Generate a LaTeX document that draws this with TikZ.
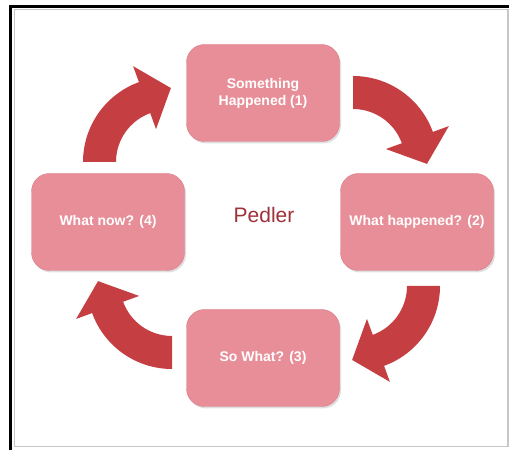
\documentclass[tikz,border=0pt]{standalone}
\usepackage{fontspec}
\setmainfont{Liberation Sans}
\usetikzlibrary{calc,shadows}

\definecolor{boxpink}{RGB}{231,142,152}
\definecolor{boxedge}{RGB}{219,122,134}
\definecolor{arrowred}{RGB}{196,62,66}
\definecolor{pedlerred}{RGB}{158,48,58}

% curved block arrow: centre, start angle, end angle
\newcommand{\bendarrow}[3]{%
	\fill[arrowred] ($(#1)+(#2:85)$) arc[start angle=#2, end angle=#3, radius=85]
		-- ($(#1)+(#3:102)$) -- ($(#1)+(#3:68.5)+(#3-90:28)$) -- ($(#1)+(#3:35)$)
		-- ($(#1)+(#3:52)$) arc[start angle=#3, end angle=#2, radius=52] -- cycle;}

\begin{document}
\begin{tikzpicture}[x=1pt, y=1pt,
	every node/.style = {font=\fontsize{14}{17}\selectfont\bfseries},
	stage/.style = {shape=rectangle, rounded corners=18pt,
		draw=boxedge, fill=boxpink, text=white, align=center,
		minimum width=153pt, minimum height=97pt,
		drop shadow={opacity=0.25, shadow xshift=1.5pt, shadow yshift=-2pt}}]
	\useasboundingbox (0,0) rectangle (509,450);
	% frame
	\draw[gray!45, line width=1.2pt] (14.5,3.5) rectangle (508,440.5);
	\draw[black, line width=3pt] (10.5,0) -- (10.5,443.5) -- (509,443.5);
	% centres of the arrows
	\coordinate (ca) at (353,289);
	\coordinate (cb) at (355,164);
	\coordinate (cc) at (172,166);
	\coordinate (cd) at (168,288);
	\bendarrow{ca}{90}{20}
	\bendarrow{cb}{0}{-70}
	\bendarrow{cc}{270}{200}
	\bendarrow{cd}{180}{110}
	% stages
	\node[stage] (happened) at (263,357) {Something\\Happened (1)};
	\node[stage] (what) at (417,228) {What happened? (2)};
	\node[stage] (sowhat) at (263,92) {So What? (3)};
	\node[stage] (now) at (108,228) {What now? (4)};
	\node[font=\fontsize{21}{25}\selectfont, text=pedlerred, anchor=base] (pedler) at (264,227) {Pedler};
\end{tikzpicture}
\end{document}
